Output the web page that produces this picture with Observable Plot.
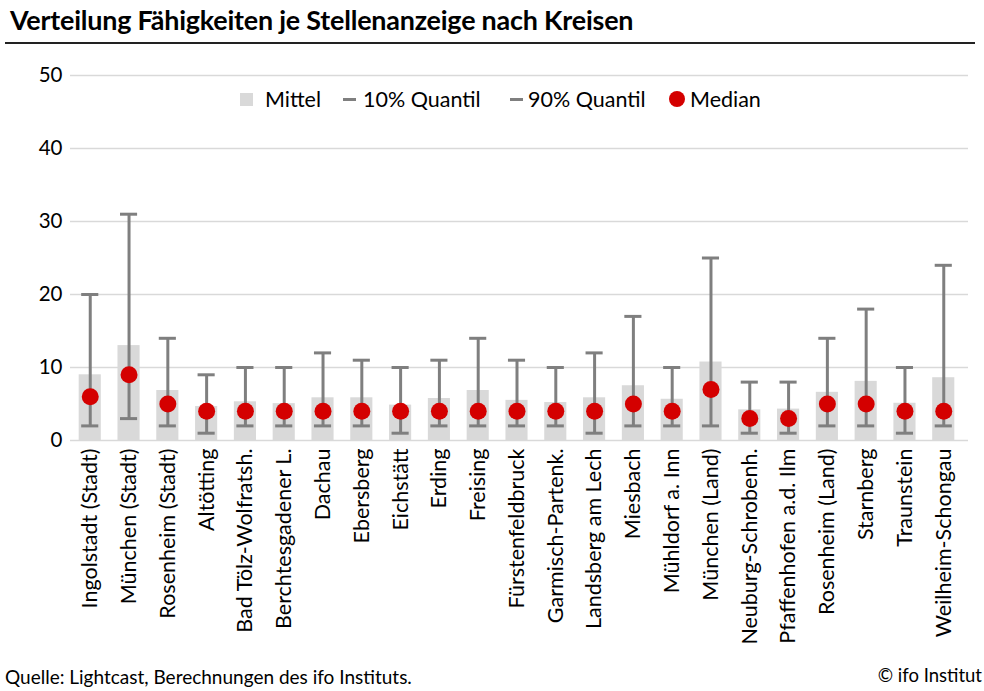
<!DOCTYPE html>
<html><head><meta charset="utf-8">
<script src="https://cdn.jsdelivr.net/npm/d3@7"></script>
<script src="https://cdn.jsdelivr.net/npm/@observablehq/plot@0.6"></script>
<style>
body{margin:0;background:#fff;font-family:Lato,"Open Sans",sans-serif;color:#000;}
#wrap{position:relative;width:984px;height:691px;overflow:hidden;}
#title{position:absolute;left:10px;top:3px;font-size:26.9px;font-weight:700;letter-spacing:-0.2px;}
#rule{position:absolute;left:5px;top:42px;width:970px;height:2px;background:#222;}
#chart{position:absolute;left:0;top:45px;}
#legend{position:absolute;top:86px;left:0;width:984px;height:26px;font-size:21.5px;white-space:nowrap;}
#legend .t{position:absolute;top:0;}
#legend .sq{position:absolute;left:240px;top:7px;width:13px;height:13px;background:#d9d9d9;}
#legend .ds{position:absolute;top:12px;width:13px;height:3px;background:#7f7f7f;}
#legend .dt{position:absolute;left:669px;top:5px;width:16px;height:16px;border-radius:50%;background:#d40000;}
#src{position:absolute;left:5px;top:665px;font-size:19px;}
#copy{position:absolute;right:2px;top:664px;font-size:18.5px;white-space:nowrap;}
</style></head>
<body><div id="wrap">
<div id="title">Verteilung Fähigkeiten je Stellenanzeige nach Kreisen</div>
<div id="rule"></div>
<div id="chart"></div>
<div id="legend">
<div class="sq"></div><div class="t" style="left:265px">Mittel</div>
<div class="ds" style="left:343px"></div><div class="t" style="left:363px">10% Quantil</div>
<div class="ds" style="left:510px"></div><div class="t" style="left:528px">90% Quantil</div>
<div class="dt"></div><div class="t" style="left:690px">Median</div>
</div>
<div id="src">Quelle: Lightcast, Berechnungen des ifo Instituts.</div>
<div id="copy">© ifo Institut</div>
</div>
<script>
const kreise = ["Ingolstadt (Stadt)","München (Stadt)","Rosenheim (Stadt)","Altötting","Bad Tölz-Wolfratsh.","Berchtesgadener L.","Dachau","Ebersberg","Eichstätt","Erding","Freising","Fürstenfeldbruck","Garmisch-Partenk.","Landsberg am Lech","Miesbach","Mühldorf a. Inn","München (Land)","Neuburg-Schrobenh.","Pfaffenhofen a.d. Ilm","Rosenheim (Land)","Starnberg","Traunstein","Weilheim-Schongau"];
const mittel = [9.0,13.0,6.85,4.65,5.3,5.05,5.85,5.85,4.85,5.75,6.85,5.5,5.2,5.85,7.5,5.65,10.75,4.2,4.3,6.6,8.1,5.1,8.6];
const q10 = [2,3,2,1,2,2,2,2,1,2,2,2,2,1,2,2,2,1,1,2,2,1,2];
const q90 = [20,31,14,9,10,10,12,11,10,11,14,11,10,12,17,10,25,8,8,14,18,10,24];
const median = [6,9,5,4,4,4,4,4,4,4,4,4,4,4,5,4,7,3,3,5,5,4,4];
const yTicks = [0,10,20,30,40,50];

const data = kreise.map((k,i)=>({k, mittel:mittel[i], q10:q10[i], q90:q90[i], median:median[i]}));

const chart = Plot.plot({
  width: 984, height: 623,
  marginTop: 30, marginBottom: 228, marginLeft: 62, marginRight: 13,
  style: {fontFamily: "Lato, 'Open Sans', sans-serif", fontSize: "21.5px", color: "#000", background: "#fff", overflow: "visible"},
  x: {domain: kreise, padding: 0.43, round: false, label: null},
  y: {domain: [0,50], ticks: yTicks, label: null},
  marks: [
    Plot.ruleY(yTicks, {stroke: "#d9d9d9", strokeWidth: 1.5, insetLeft: 8, insetRight: 3}),
    Plot.barY(data, {x: "k", y: "mittel", fill: "#d9d9d9"}),
    Plot.ruleX(data, {x: "k", y1: "q10", y2: "q90", stroke: "#7f7f7f", strokeWidth: 3}),
    Plot.tickY(data, {x: "k", y: "q10", stroke: "#7f7f7f", strokeWidth: 3, insetLeft: 2.5, insetRight: 2.5}),
    Plot.tickY(data, {x: "k", y: "q90", stroke: "#7f7f7f", strokeWidth: 3, insetLeft: 2.5, insetRight: 2.5}),
    Plot.dot(data, {x: "k", y: "median", r: 8.5, fill: "#d40000", stroke: "none"}),
    Plot.axisY({ticks: yTicks, tickSize: 0, tickPadding: 0, fontSize: 20.5}),
    Plot.axisX({tickSize: 0, tickRotate: -90, tickPadding: 8, fontSize: 21.5})
  ]
});
document.getElementById("chart").appendChild(chart);
</script>
</body></html>
